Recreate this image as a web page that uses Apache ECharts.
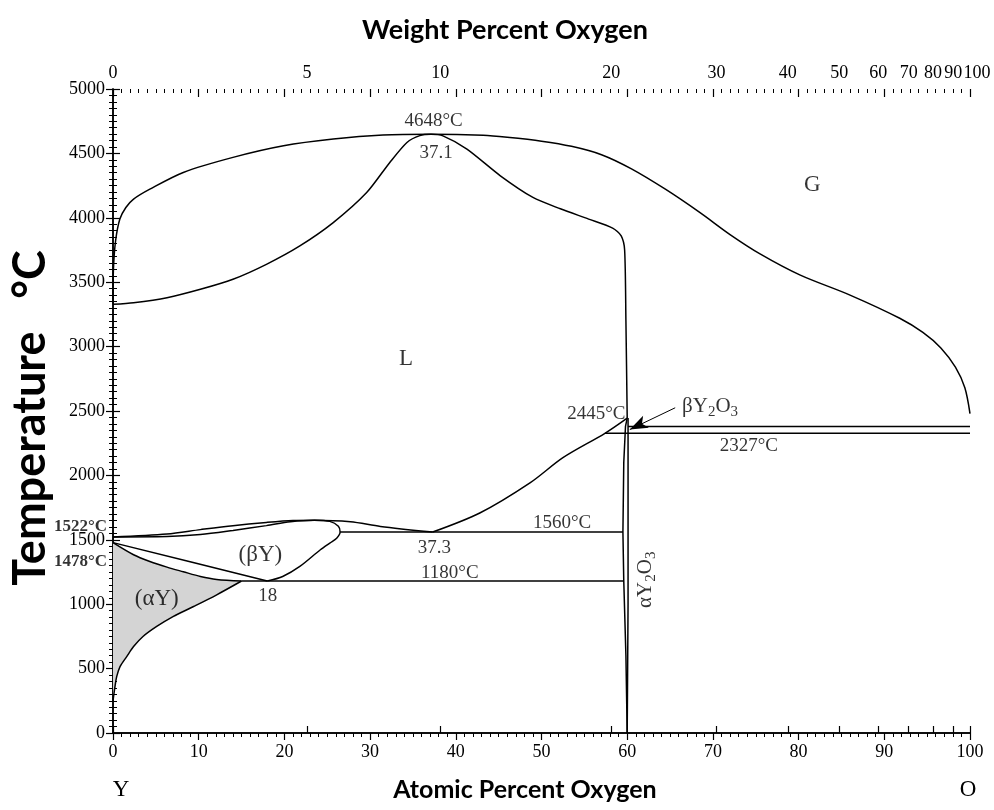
<!DOCTYPE html>
<html><head><meta charset="utf-8">
<script src="https://cdn.jsdelivr.net/npm/echarts@6/dist/echarts.min.js"></script>
<style>html,body{margin:0;padding:0;background:#fff}#c{width:994px;height:810px}</style>
</head><body><div id="c"></div>
<script>
// ---------- data (x = atomic % O, y = temperature °C) ----------
const weightTicks = [0, 5, 10, 20, 30, 40, 50, 60, 70, 80, 90, 100];
const atomicMajorTicks = [0, 10, 20, 30, 40, 50, 60, 70, 80, 90, 100];
const atomicMinorStep = 1;
const tempMajorTicks = [0, 500, 1000, 1500, 2000, 2500, 3000, 3500, 4000, 4500, 5000];
const tempMinorStep = 50;

const gasBoundary = [[0,3330],[0.05,3600],[0.3,3820],[0.8,3990],[1.5,4080],[2.4,4145],[4.3,4222],[8.2,4352],[14,4469],[19.9,4559],[25.7,4611],[31.5,4642],[37.1,4648],[43.2,4640],[46,4625],[50,4595],[53.5,4555],[57,4490],[60.5,4380],[64.5,4220],[68.5,4040],[72,3870],[75.5,3720],[80.2,3555],[86,3400],[91.8,3220],[94.5,3110],[96.6,2990],[98.3,2840],[99.4,2680],[100,2480]];
const liquidBoundary = [[0,3328],[2.4,3341],[6.3,3380],[10.2,3445],[14,3523],[17.9,3639],[21.8,3782],[25.7,3963],[29.6,4196],[32.3,4430],[34.3,4585],[35.8,4638],[37.1,4648],[38.5,4636],[41.3,4533],[45.2,4326],[49,4158],[52.2,4070],[55.5,3990],[58.3,3920],[59.3,3860],[59.7,3750],[59.85,3200],[60,2445]];
const liquidusY = [[0,1522],[6.3,1545],[10.2,1579],[14,1610],[17.9,1635],[21,1650],[23.5,1652],[27.7,1640],[31.2,1604],[37.3,1560]];
const betaSolidus = [[0,1522],[6.3,1525],[10.2,1541],[14,1573],[17.9,1610],[20.7,1640],[23.5,1652],[25.3,1643],[26.3,1605],[26.5,1560],[26.1,1512],[25.3,1475],[24.2,1423],[21.8,1293],[19.8,1215],[18,1180]];
const betaLower = [[0,1478],[9,1329],[18,1180]];
const alphaUpper = [[0,1478],[2.4,1384],[4.3,1332],[6.3,1288],[8.2,1252],[10.2,1215],[12.1,1192],[15,1180]];
const alphaSolvus = [[15,1180],[12.1,1073],[9.4,982],[7,904],[5.1,827],[3.5,749],[2.4,671],[1.6,593],[0.82,516],[0.43,438],[0.23,360],[0.1,300],[0,250]];
const liquidusOxide = [[37.3,1560],[42.8,1708],[48.7,1944],[52.5,2138],[57.4,2327],[60,2445]];
const eutectoid1180 = [[15,1180],[59.6,1180]];
const eutectic1560 = [[26.5,1560],[59.5,1560]];
const line2327 = [[57.4,2327],[100,2327]];
const line2380 = [[60.1,2380],[100,2380]];
const oxideLeft = [[60,0],[59.85,600],[59.6,1180],[59.5,1560],[59.6,2100],[59.8,2380],[60,2445]];
const oxideRight = [[60,0],[60.1,1000],[60.1,2445]];
const arrowFrom = [65.6, 2525];
const arrowTo = [60.3, 2356];

const annotations = [
  ['4648°C', 37.4, 4750],
  ['37.1', 37.7, 4500],
  ['G', 81.6, 4253],
  ['L', 34.2, 2905],
  ['2445°C', 56.4, 2473],
  ['2327°C', 74.2, 2226],
  ['1560°C', 52.4, 1634],
  ['37.3', 37.5, 1439],
  ['1180°C', 39.3, 1245],
  ['(βY)', 17.2, 1384],
  ['(αY)', 5.1, 1040],
  ['18', 18.05, 1060]
];
const bigLabels = ['G', 'L', '(βY)', '(αY)'];
const sideLabels = [['1522°C', 0, 1600], ['1478°C', 0, 1332]];
const betaOxideLabel = [66.4, 2537];
const alphaOxideLabel = [62.1, 1190];

// ---------- helpers ----------
function wtToAt(w) {
  if (w >= 100) return 100;
  const o = w / 15.999, y = (100 - w) / 88.906;
  return 100 * o / (o + y);
}
function steps(max, step) { const a = []; for (let v = 0; v <= max + 1e-9; v += step) a.push(v); return a; }
const weightPos = weightTicks.map(wtToAt);
const weightPosMain = weightPos.slice(0, -1);
const weightPosLast = weightPos.slice(-1);
const atomicMinorTicks = steps(100, atomicMinorStep);
const tempMinorTicks = steps(5000, tempMinorStep);
function weightLabel(v) {
  let best = 0;
  weightPos.forEach((p, i) => { if (Math.abs(p - v) < Math.abs(weightPos[best] - v)) best = i; });
  return String(weightTicks[best]);
}
const SERIF = 'Liberation Serif';
const BLACK = '#000';

function lineSeries(data, smooth, extra) {
  return Object.assign({
    type: 'line', data: data, showSymbol: false, symbol: 'none', smooth: smooth || false,
    lineStyle: { color: BLACK, width: 1.5 }, silent: true, z: 3, animation: false
  }, extra || {});
}

const richSub = {
  n: { fontFamily: SERIF, fontSize: 21, color: BLACK },
  s: { fontFamily: SERIF, fontSize: 15, color: BLACK, padding: [12, 0, 0, 0] }
};

const labelData = annotations.map(a => ({
  value: [a[1], a[2]],
  label: {
    show: true, position: 'inside', formatter: a[0], color: BLACK,
    fontFamily: SERIF, fontSize: bigLabels.includes(a[0]) ? 23 : 19
  }
}));
sideLabels.forEach(a => labelData.push({
  value: [a[1], a[2]],
  label: { show: true, position: 'left', distance: 6, formatter: a[0], color: BLACK,
    fontFamily: SERIF, fontWeight: 'bold', fontSize: 17 }
}));
labelData.push({
  value: betaOxideLabel,
  label: { show: true, position: 'right', distance: 0, formatter: '{n|βY}{s|2}{n|O}{s|3}', rich: richSub }
});
labelData.push({
  value: alphaOxideLabel,
  label: { show: true, position: 'inside', rotate: 90, formatter: '{n|αY}{s|2}{n|O}{s|3}', rich: richSub }
});

const alphaFill = alphaUpper.concat(alphaSolvus);

const axisLineStyle = { show: true, lineStyle: { color: BLACK, width: 1.5 } };
const tickStyle = { color: BLACK, width: 1.2 };
const minorStyle = { color: BLACK, width: 1 };
const noLine = { show: false };
const noLabel = { show: false };
const noSplit = { show: false };
const topLabelStyle = { fontFamily: SERIF, fontSize: 18, color: BLACK, margin: 7, showMinLabel: true, showMaxLabel: true, formatter: weightLabel };

function tickOnlyX(position, values, length, inside) {
  return { type: 'value', min: 0, max: 100, position: position, axisLine: noLine, axisLabel: noLabel, splitLine: noSplit,
    axisTick: { show: true, inside: !!inside, length: length, customValues: values, lineStyle: length > 5 ? tickStyle : minorStyle } };
}
function tickOnlyY(position, values, length) {
  return { type: 'value', min: 0, max: 5000, position: position, axisLine: noLine, axisLabel: noLabel, splitLine: noSplit,
    axisTick: { show: true, length: length, customValues: values, lineStyle: length > 5 ? tickStyle : minorStyle } };
}

const chart = echarts.init(document.getElementById('c'), null, { renderer: 'canvas' });
chart.setOption({
  animation: false,
  backgroundColor: '#fff',
  grid: { left: 113, right: 24, top: 89, bottom: 77, containLabel: false, outerBoundsMode: 'none' },
  xAxis: [
    { type: 'value', min: 0, max: 100, interval: 10, position: 'bottom',
      axisLine: axisLineStyle,
      axisTick: { show: true, length: 7, lineStyle: tickStyle },
      minorTick: { show: true, splitNumber: 10, length: 4, lineStyle: minorStyle },
      axisLabel: { fontFamily: SERIF, fontSize: 18, color: BLACK, margin: 10 },
      splitLine: noSplit, minorSplitLine: noSplit },
    // top frame line with weight-percent ticks and labels
    { type: 'value', min: 0, max: 100, position: 'top',
      axisLine: axisLineStyle,
      axisTick: { show: true, length: 7, customValues: weightPosMain, lineStyle: tickStyle },
      axisLabel: Object.assign({ show: true, customValues: weightPosMain }, topLabelStyle),
      splitLine: noSplit },
    { type: 'value', min: 0, max: 100, position: 'top',
      axisLine: noLine,
      axisTick: { show: true, length: 7, customValues: weightPosLast, lineStyle: tickStyle },
      axisLabel: Object.assign({ show: true, customValues: weightPosLast, padding: [0, 0, 0, 14] }, topLabelStyle),
      splitLine: noSplit },
    // atomic-percent ticks hanging down from the top frame line
    tickOnlyX('top', atomicMajorTicks, 8, true),
    tickOnlyX('top', atomicMinorTicks, 4, true)
  ],
  yAxis: [
    { type: 'value', min: 0, max: 5000, interval: 500, position: 'left',
      axisLine: axisLineStyle,
      axisTick: { show: true, length: 7, lineStyle: tickStyle },
      minorTick: { show: true, splitNumber: 10, length: 4, lineStyle: minorStyle },
      axisLabel: { fontFamily: SERIF, fontSize: 18, color: BLACK, margin: 8, formatter: v => String(v) },
      splitLine: noSplit },
    { type: 'value', min: 0, max: 5000, position: 'right',
      axisLine: axisLineStyle, axisLabel: noLabel, splitLine: noSplit,
      axisTick: { show: true, length: 7, customValues: tempMajorTicks, lineStyle: tickStyle } },
    tickOnlyY('right', tempMinorTicks, 4)
  ],
  series: [
    { type: 'custom', coordinateSystem: 'cartesian2d', data: [[0, 0]], silent: true, z: 1,
      renderItem: function (params, api) {
        const pts = alphaFill.map(p => api.coord(p));
        return { type: 'polygon', shape: { points: pts }, style: { fill: '#d4d4d4', stroke: null } };
      } },
    lineSeries(gasBoundary, 0.3),
    lineSeries(liquidBoundary, 0.25),
    lineSeries(liquidusY, 0.3),
    lineSeries(betaSolidus, 0.3),
    lineSeries(betaLower, false),
    lineSeries(alphaUpper, 0.3),
    lineSeries(alphaSolvus, 0.3),
    lineSeries(liquidusOxide, 0.3),
    lineSeries(eutectoid1180, false),
    lineSeries(eutectic1560, false),
    lineSeries(line2327, false),
    lineSeries(line2380, false, {
      markLine: { silent: true, symbol: ['none', 'arrow'], symbolSize: [10, 18], animation: false,
        lineStyle: { color: BLACK, width: 1, type: 'solid' }, label: { show: false },
        data: [[{ coord: arrowFrom }, { coord: arrowTo }]] }
    }),
    lineSeries(oxideLeft, false),
    lineSeries(oxideRight, false),
    { type: 'scatter', data: labelData, symbolSize: 0, silent: true, z: 5, clip: false }
  ],
  graphic: [
    { type: 'text', x: 505, y: 30, style: { text: 'Weight Percent Oxygen', font: 'bold 27px Lato', fill: BLACK, textAlign: 'center', textVerticalAlign: 'middle' } },
    { type: 'text', x: 525, y: 790, style: { text: 'Atomic Percent Oxygen', font: 'bold 25px Lato', fill: BLACK, textAlign: 'center', textVerticalAlign: 'middle' } },
    { type: 'text', x: 30, y: 418, rotation: Math.PI / 2, style: { text: 'Temperature   °C', font: 'bold 45px Lato', fill: BLACK, textAlign: 'center', textVerticalAlign: 'middle' } },
    { type: 'text', x: 121, y: 790, style: { text: 'Y', font: '23px "Liberation Serif"', fill: BLACK, textAlign: 'center', textVerticalAlign: 'middle' } },
    { type: 'text', x: 968, y: 790, style: { text: 'O', font: '23px "Liberation Serif"', fill: BLACK, textAlign: 'center', textVerticalAlign: 'middle' } }
  ]
});
</script></body></html>
